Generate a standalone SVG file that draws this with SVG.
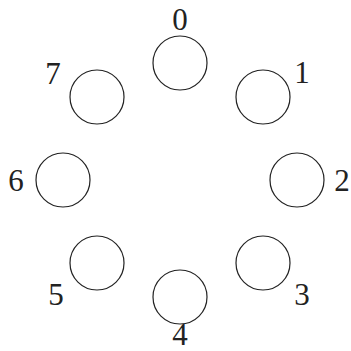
<svg xmlns="http://www.w3.org/2000/svg" width="351" height="351" viewBox="0 0 351 351">
<style>
.n{fill:#fff;stroke:#222;stroke-width:1.2}
.l{font-family:"Liberation Serif",serif;font-size:31px;fill:#222;text-anchor:middle}
</style>
<rect width="351" height="351" fill="#fff"/>
<g id="connectors"/>
<g id="node0"><circle class="n" cx="180" cy="63" r="27"/><text class="l" x="180" y="30">0</text></g>
<g id="node1"><circle class="n" cx="263" cy="97" r="27"/><text class="l" x="302" y="83">1</text></g>
<g id="node2"><circle class="n" cx="297" cy="180" r="27"/><text class="l" x="342" y="191">2</text></g>
<g id="node3"><circle class="n" cx="263" cy="263" r="27"/><text class="l" x="302" y="305">3</text></g>
<g id="node4"><circle class="n" cx="180" cy="297" r="27"/><text class="l" x="180" y="345">4</text></g>
<g id="node5"><circle class="n" cx="97" cy="263" r="27"/><text class="l" x="56" y="305">5</text></g>
<g id="node6"><circle class="n" cx="63" cy="180" r="27"/><text class="l" x="16" y="191">6</text></g>
<g id="node7"><circle class="n" cx="97" cy="97" r="27"/><text class="l" x="53" y="84">7</text></g>
</svg>
